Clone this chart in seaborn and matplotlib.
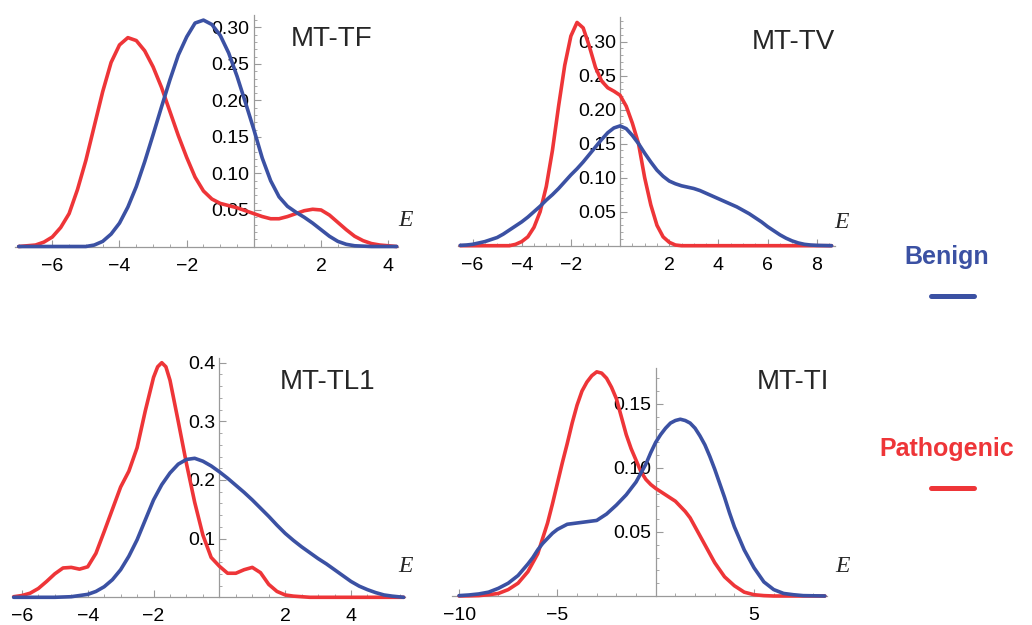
"""Energy density curves for benign vs pathogenic tRNA variants (four genes)."""

import matplotlib
matplotlib.use("Agg")
import matplotlib.pyplot as plt
import pandas as pd
import seaborn as sns
from matplotlib.ticker import FixedLocator, MultipleLocator, FormatStrFormatter

BLUE = "#3B51A3"
RED = "#EE3538"
AXIS_GRAY = "#9a9a9a"

# ---- MT-TF (read every 0.25 in E) ----------------------------------------
tf_benign_e = [-7.0, -5.0, -4.75, -4.5, -4.25, -4.0, -3.75, -3.5, -3.25, -3.0, -2.75,
               -2.5, -2.25, -2.0, -1.75, -1.5, -1.25, -1.0, -0.75, -0.5, -0.25, 0.0,
               0.25, 0.5, 0.75, 1.0, 1.25, 1.5, 1.75, 2.0, 2.25, 2.5, 2.75, 3.0, 3.5,
               4.25]
tf_benign_d = [0.0, 0.0, 0.002, 0.007, 0.017, 0.032, 0.054, 0.082, 0.116, 0.153, 0.191,
               0.228, 0.262, 0.287, 0.306, 0.310, 0.304, 0.289, 0.265, 0.233, 0.197,
               0.160, 0.121, 0.090, 0.068, 0.055, 0.047, 0.040, 0.032, 0.023, 0.014,
               0.007, 0.003, 0.001, 0.0, 0.0]
tf_patho_e = [-7.0, -6.5, -6.25, -6.0, -5.75, -5.5, -5.25, -5.0, -4.75, -4.5, -4.25,
              -4.0, -3.75, -3.5, -3.25, -3.0, -2.75, -2.5, -2.25, -2.0, -1.75, -1.5,
              -1.25, -1.0, -0.75, -0.5, -0.25, 0.0, 0.25, 0.5, 0.75, 1.0, 1.25, 1.5,
              1.75, 2.0, 2.25, 2.5, 2.75, 3.0, 3.25, 3.5, 3.75, 4.0, 4.25]
tf_patho_d = [0.0, 0.002, 0.006, 0.013, 0.026, 0.045, 0.078, 0.118, 0.165, 0.212, 0.252,
              0.276, 0.286, 0.282, 0.268, 0.246, 0.218, 0.185, 0.152, 0.122, 0.095,
              0.076, 0.065, 0.059, 0.056, 0.053, 0.049, 0.045, 0.041, 0.038, 0.038,
              0.041, 0.045, 0.049, 0.051, 0.050, 0.043, 0.033, 0.023, 0.014, 0.008,
              0.004, 0.002, 0.001, 0.0]

# ---- MT-TV ---------------------------------------------------------------
tv_benign_e = [-6.5, -6.25, -6.0, -5.75, -5.5, -5.25, -5.0, -4.75, -4.5, -4.25, -4.0,
               -3.75, -3.5, -3.25, -3.0, -2.75, -2.5, -2.25, -2.0, -1.75, -1.5, -1.25,
               -1.0, -0.75, -0.5, -0.25, 0.0, 0.25, 0.5, 0.75, 1.0, 1.25, 1.5, 1.75,
               2.0, 2.25, 2.5, 2.75, 3.0, 3.25, 3.5, 3.75, 4.0, 4.25, 4.5, 4.75, 5.0,
               5.25, 5.5, 5.75, 6.0, 6.25, 6.5, 6.75, 7.0, 7.25, 7.5, 7.75, 8.0, 8.6]
tv_benign_d = [0.0005, 0.001, 0.002, 0.004, 0.006, 0.009, 0.012, 0.017, 0.023, 0.029,
               0.035, 0.042, 0.050, 0.058, 0.067, 0.075, 0.084, 0.094, 0.104, 0.113,
               0.123, 0.134, 0.145, 0.156, 0.166, 0.173, 0.176, 0.172, 0.162, 0.150,
               0.136, 0.123, 0.111, 0.102, 0.095, 0.091, 0.088, 0.086, 0.084, 0.081,
               0.077, 0.073, 0.069, 0.065, 0.061, 0.057, 0.052, 0.047, 0.041, 0.035,
               0.028, 0.022, 0.016, 0.011, 0.007, 0.004, 0.002, 0.001, 0.0005, 0.0]
tv_patho_e = [-6.5, -4.5, -4.25, -4.0, -3.75, -3.5, -3.25, -3.0, -2.75, -2.5, -2.25,
              -2.0, -1.75, -1.5, -1.25, -1.0, -0.75, -0.5, -0.25, 0.0, 0.25, 0.5,
              0.75, 1.0, 1.25, 1.5, 1.75, 2.0, 2.25, 2.5, 8.6]
tv_patho_d = [0.0, 0.0, 0.002, 0.006, 0.013, 0.027, 0.050, 0.087, 0.140, 0.205, 0.265,
              0.308, 0.328, 0.320, 0.293, 0.262, 0.242, 0.232, 0.227, 0.221, 0.205,
              0.180, 0.150, 0.100, 0.060, 0.030, 0.013, 0.005, 0.001, 0.0, 0.0]

# ---- MT-TL1 --------------------------------------------------------------
tl1_benign_e = [-6.25, -5.0, -4.75, -4.5, -4.25, -4.0, -3.75, -3.5, -3.25, -3.0, -2.75,
                -2.5, -2.25, -2.0, -1.75, -1.5, -1.25, -1.0, -0.75, -0.5, -0.25, 0.0,
                0.25, 0.5, 0.75, 1.0, 1.25, 1.5, 1.75, 2.0, 2.25, 2.5, 2.75, 3.0, 3.25,
                3.5, 3.75, 4.0, 4.25, 4.5, 4.75, 5.0, 5.25, 5.6]
tl1_benign_d = [0.0, 0.0, 0.0005, 0.001, 0.003, 0.005, 0.010, 0.018, 0.030, 0.047, 0.070,
                0.098, 0.132, 0.166, 0.192, 0.212, 0.227, 0.235, 0.237, 0.232, 0.224,
                0.214, 0.203, 0.191, 0.179, 0.166, 0.152, 0.138, 0.123, 0.109, 0.097,
                0.086, 0.076, 0.066, 0.057, 0.047, 0.037, 0.027, 0.019, 0.013, 0.008,
                0.004, 0.002, 0.0]
tl1_patho_e = [-6.25, -6.0, -5.75, -5.5, -5.25, -5.0, -4.75, -4.5, -4.25, -4.0, -3.75,
               -3.5, -3.25, -3.0, -2.75, -2.5, -2.25, -2.0, -1.875, -1.75, -1.625, -1.5,
               -1.25, -1.0, -0.75, -0.5, -0.25, 0.0, 0.25, 0.5, 0.75, 1.0, 1.25, 1.5,
               1.75, 2.0, 2.25, 2.5, 2.75, 5.6]
tl1_patho_d = [0.001, 0.003, 0.007, 0.015, 0.027, 0.040, 0.050, 0.051, 0.048, 0.052,
               0.075, 0.112, 0.150, 0.188, 0.215, 0.255, 0.318, 0.375, 0.393, 0.400,
               0.393, 0.370, 0.300, 0.228, 0.162, 0.106, 0.068, 0.053, 0.041, 0.041,
               0.047, 0.051, 0.042, 0.022, 0.010, 0.004, 0.002, 0.001, 0.0, 0.0]

# ---- MT-TI ---------------------------------------------------------------
ti_benign_e = [-10.0, -9.5, -9.0, -8.5, -8.0, -7.5, -7.0, -6.5, -6.25, -6.0, -5.75,
               -5.5, -5.25, -5.0, -4.5, -4.0, -3.5, -3.0, -2.5, -2.0, -1.5, -1.25,
               -1.0, -0.75, -0.5, -0.25, 0.0, 0.25, 0.5, 0.75, 1.0, 1.25, 1.5, 1.75,
               2.0, 2.25, 2.5, 2.75, 3.0, 3.25, 3.5, 3.75, 4.0, 4.25, 4.5, 5.0, 5.5,
               6.0, 6.5, 7.0, 7.5, 8.6]
ti_benign_d = [0.0003, 0.0008, 0.0016, 0.003, 0.006, 0.010, 0.016, 0.025, 0.030, 0.036,
               0.041, 0.045, 0.049, 0.052, 0.056, 0.057, 0.058, 0.059, 0.064, 0.071,
               0.079, 0.084, 0.089, 0.096, 0.103, 0.112, 0.120, 0.126, 0.131, 0.135,
               0.137, 0.138, 0.137, 0.135, 0.131, 0.125, 0.118, 0.109, 0.099, 0.088,
               0.077, 0.065, 0.054, 0.045, 0.036, 0.022, 0.011, 0.005, 0.002, 0.001,
               0.0003, 0.0]
ti_patho_e = [-10.0, -9.5, -9.0, -8.5, -8.0, -7.5, -7.0, -6.5, -6.0, -5.5, -5.25, -5.0,
              -4.75, -4.5, -4.25, -4.0, -3.75, -3.5, -3.25, -3.0, -2.75, -2.5, -2.25,
              -2.0, -1.75, -1.5, -1.25, -1.0, -0.75, -0.5, -0.25, 0.0, 0.5, 1.0, 1.5,
              1.75, 2.0, 2.25, 2.5, 2.75, 3.0, 3.5, 4.0, 4.5, 5.0, 5.5, 6.0, 8.6]
ti_patho_d = [0.0, 0.0001, 0.0003, 0.001, 0.002, 0.005, 0.010, 0.019, 0.033, 0.057,
              0.072, 0.088, 0.104, 0.119, 0.135, 0.149, 0.160, 0.167, 0.172, 0.175,
              0.174, 0.170, 0.163, 0.154, 0.140, 0.126, 0.115, 0.106, 0.097, 0.091,
              0.087, 0.084, 0.079, 0.074, 0.066, 0.061, 0.054, 0.047, 0.040, 0.033,
              0.026, 0.015, 0.008, 0.003, 0.001, 0.0003, 0.0, 0.0]

# panel settings: axes rect in reference pixels (left, right, baseline, top)
PANELS = [
    dict(name="MT-TF",
         curves=[(tf_benign_e, tf_benign_d), (tf_patho_e, tf_patho_d)],
         rect=(15, 398, 246.5, 15), xlim=(-7.11, 4.29), ytop=0.317,
         xmajor=[-6, -4, -2, 2, 4], xminor=0.5,
         ymajor=[0.05, 0.10, 0.15, 0.20, 0.25, 0.30], yminor=0.01, yfmt="%.2f",
         title_xy=(332, 39), e_xy=(405, 220)),
    dict(name="MT-TV",
         curves=[(tv_benign_e, tv_benign_d), (tv_patho_e, tv_patho_d)],
         rect=(458, 835, 245.7, 17), xlim=(-6.59, 8.74), ytop=0.336,
         xmajor=[-6, -4, -2, 2, 4, 6, 8], xminor=0.5,
         ymajor=[0.05, 0.10, 0.15, 0.20, 0.25, 0.30], yminor=0.01, yfmt="%.2f",
         title_xy=(793, 42), e_xy=(841, 223)),
    dict(name="MT-TL1",
         curves=[(tl1_benign_e, tl1_benign_d), (tl1_patho_e, tl1_patho_d)],
         rect=(13, 405, 597.3, 358), xlim=(-6.27, 5.64), ytop=0.408,
         xmajor=[-6, -4, -2, 2, 4], xminor=0.5,
         ymajor=[0.1, 0.2, 0.3, 0.4], yminor=0.02, yfmt="%.1f",
         title_xy=(328, 382), e_xy=(405, 566)),
    dict(name="MT-TI",
         curves=[(ti_benign_e, ti_benign_d), (ti_patho_e, ti_patho_d)],
         rect=(452, 827, 596, 368), xlim=(-10.36, 8.71), ytop=0.178,
         xmajor=[-10, -5, 5], xminor=1.0,
         ymajor=[0.05, 0.10, 0.15], yminor=0.01, yfmt="%.2f",
         title_xy=(793, 382), e_xy=(842, 567)),
]

W, H = 1032, 625

sns.set_theme(style="white")
plt.rcParams.update({
    "font.family": ["Liberation Sans", "DejaVu Sans"],
    "axes.unicode_minus": True,
})

fig = plt.figure(figsize=(W / 100, H / 100), dpi=100)


def fx(px):
    return px / W


def fy(py):
    return 1 - py / H


for p in PANELS:
    l, r, b, t = p["rect"]
    ax = fig.add_axes([fx(l), fy(b), fx(r) - fx(l), fy(t) - fy(b)])
    ax.patch.set_alpha(0)

    frames = []
    for (e, d), label in zip(p["curves"], ["Benign", "Pathogenic"]):
        frames.append(pd.DataFrame({"E": e, "density": d, "class": label}))
    df = pd.concat(frames, ignore_index=True)

    sns.lineplot(data=df, x="E", y="density", hue="class",
                 palette={"Benign": BLUE, "Pathogenic": RED},
                 hue_order=["Pathogenic", "Benign"],
                 linewidth=2.6, legend=False, clip_on=False, ax=ax)

    ax.set_xlim(*p["xlim"])
    ax.set_ylim(0, p["ytop"])
    ax.set_xlabel("")
    ax.set_ylabel("")

    for s in ["top", "right"]:
        ax.spines[s].set_visible(False)
    ax.spines["left"].set_position(("data", 0))
    ax.spines["bottom"].set_position(("data", 0))
    for s in ["left", "bottom"]:
        ax.spines[s].set_color(AXIS_GRAY)
        ax.spines[s].set_linewidth(0.9)
        ax.spines[s].set_zorder(0.5)

    ax.xaxis.set_major_locator(FixedLocator(p["xmajor"]))
    ax.xaxis.set_minor_locator(MultipleLocator(p["xminor"]))
    ax.yaxis.set_major_locator(FixedLocator(p["ymajor"]))
    ax.yaxis.set_minor_locator(MultipleLocator(p["yminor"]))
    ax.yaxis.set_major_formatter(FormatStrFormatter(p["yfmt"]))

    ax.tick_params(axis="both", which="major", direction="in", length=5,
                   width=0.8, color=AXIS_GRAY, labelsize=14, labelcolor="black")
    ax.tick_params(axis="both", which="minor", direction="in", length=2.5,
                   width=0.6, color=AXIS_GRAY)
    ax.tick_params(axis="x", which="major", pad=8)
    ax.tick_params(axis="y", which="major", pad=3)
    ax.tick_params(bottom=True, left=True, which="both")

    fig.text(fx(p["title_xy"][0]), fy(p["title_xy"][1]), p["name"],
             fontsize=20, ha="center", va="center")
    fig.text(fx(p["e_xy"][0]), fy(p["e_xy"][1]), "E",
             family=["Liberation Serif", "DejaVu Serif"], style="italic",
             fontsize=17, ha="center", va="center")

# legend on the right
fig.text(fx(947), fy(257), "Benign", color=BLUE, fontsize=18,
         fontweight="bold", ha="center", va="center")
fig.add_artist(plt.Line2D([fx(931), fx(974)], [fy(296), fy(296)],
                          color=BLUE, linewidth=3.6, transform=fig.transFigure))
fig.text(fx(947), fy(449), "Pathogenic", color=RED, fontsize=18,
         fontweight="bold", ha="center", va="center")
fig.add_artist(plt.Line2D([fx(931), fx(974)], [fy(488), fy(488)],
                          color=RED, linewidth=3.6, transform=fig.transFigure))

fig.savefig("out.png", dpi=100)
plt.close(fig)
